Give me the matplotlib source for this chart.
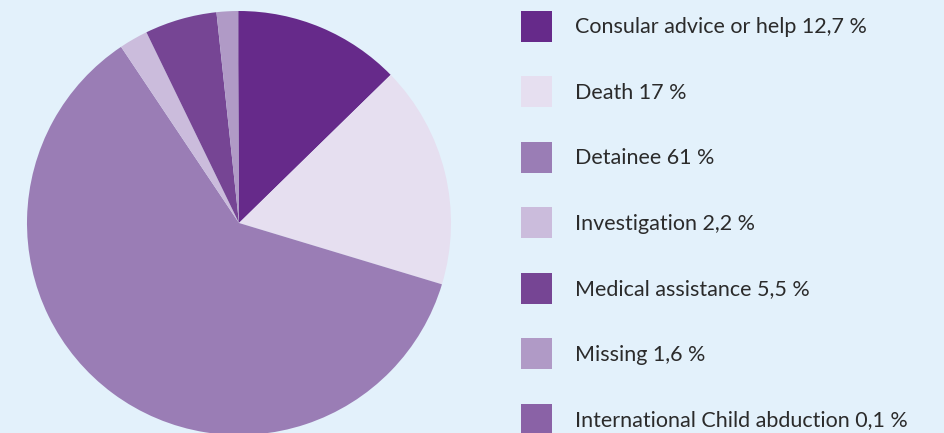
import matplotlib
matplotlib.use("Agg")
import matplotlib.pyplot as plt

names = ["Consular advice or help", "Death", "Detainee", "Investigation",
         "Medical assistance", "Missing", "International Child abduction"]
values = [12.7, 17, 61, 2.2, 5.5, 1.6, 0.1]
value_text = ["12,7", "17", "61", "2,2", "5,5", "1,6", "0,1"]
colors = ["#662a8a", "#e6dff0", "#9a7db5", "#cbbcdc", "#764594", "#b09ac6", "#8a62a6"]

bg = "#e3f1fb"
W, H = 945, 433

plt.rcParams['font.family'] = ['Lato', 'DejaVu Sans']

fig = plt.figure(figsize=(W / 100, H / 100), dpi=100, facecolor=bg)
ax = fig.add_axes([0, 0, 1, 1])
ax.set_facecolor(bg)

wedges, _ = ax.pie(values, colors=colors, startangle=90, counterclock=False,
                   center=(239, H - 223), radius=212,
                   wedgeprops=dict(linewidth=0))
ax.set_xlim(0, W)
ax.set_ylim(0, H)
ax.set_aspect('equal')
ax.axis('off')

labels = [f"{n} {v} %" for n, v in zip(names, value_text)]
leg = ax.legend(wedges, labels, loc='upper left',
                bbox_to_anchor=(521 / W, 1 - 11 / H), bbox_transform=fig.transFigure,
                frameon=False, fontsize=15.5, borderpad=0, borderaxespad=0,
                handlelength=1.44, handleheight=1.84, handletextpad=1.07,
                labelspacing=1.6)
for t in leg.get_texts():
    t.set_color("#2b2b2b")

fig.savefig("out.png", dpi=100, facecolor=bg)
